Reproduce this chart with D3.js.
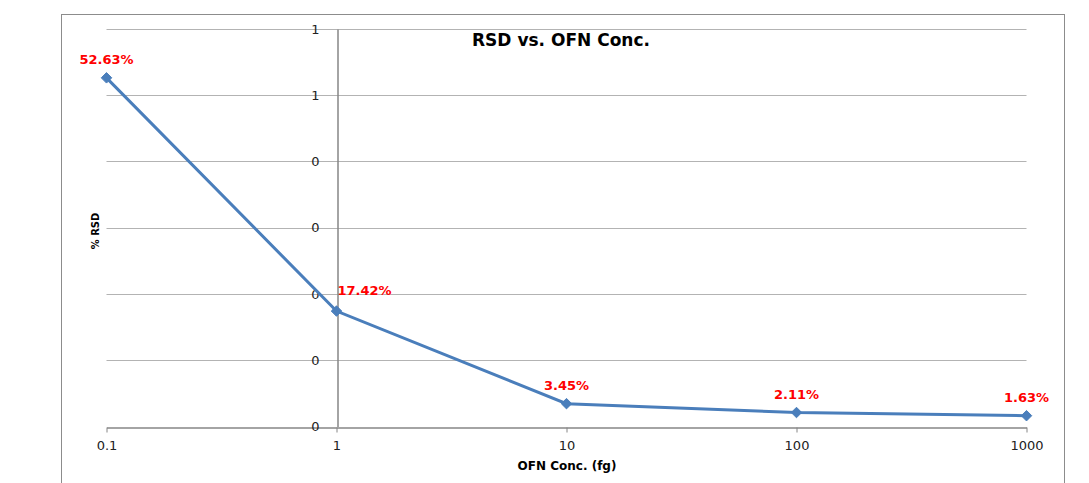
<!DOCTYPE html>
<html>
<head>
<meta charset="utf-8">
<script src="https://cdn.jsdelivr.net/npm/d3@7"></script>
<style>
  body { margin: 0; background: #fff; }
</style>
</head>
<body>
<div id="chart"></div>
<script>
// data
var concs = [0.1, 1, 10, 100, 1000];
var rsd = [0.5263, 0.1742, 0.0345, 0.0211, 0.0163];
var rsdLabels = ["52.63%", "17.42%", "3.45%", "2.11%", "1.63%"];
var xTicks = [0.1, 1, 10, 100, 1000];
var xTickLabels = ["0.1", "1", "10", "100", "1000"];
var yTicks = [0, 0.1, 0.2, 0.3, 0.4, 0.5, 0.6];
var yTickLabels = ["0", "0", "0", "0", "0", "1", "1"];

var W = 1089, H = 483;
var plotLeft = 106.5, plotRight = 1026.5, plotTop = 29, plotBottom = 426.5;

var svg = d3.select("#chart")
  .append("svg")
  .attr("width", W)
  .attr("height", H);

// outer chart frame
svg.append("rect")
  .attr("x", 61.5).attr("y", 14.5)
  .attr("width", 1003).attr("height", 500)
  .attr("fill", "none")
  .attr("stroke", "#8c8c8c")
  .attr("stroke-width", 1);

var x = d3.scaleLog().domain([0.1, 1000]).range([plotLeft, plotRight]);
var y = d3.scaleLinear().domain([0, 0.6]).range([plotBottom, plotTop]);

// gridlines
svg.append("g")
  .selectAll("line")
  .data(yTicks.slice(1))
  .enter()
  .append("line")
    .attr("x1", plotLeft).attr("x2", plotRight)
    .attr("y1", function(d) { return Math.round(y(d)) + 0.5; })
    .attr("y2", function(d) { return Math.round(y(d)) + 0.5; })
    .attr("stroke", "#b3b3b3")
    .attr("stroke-width", 1);

// x axis
var xAxis = svg.append("g")
  .attr("transform", "translate(0," + (Math.round(plotBottom) + 0.5) + ")")
  .call(d3.axisBottom(x)
    .tickValues(xTicks)
    .tickFormat(function(d, i) { return xTickLabels[i]; })
    .tickSize(5)
    .tickSizeOuter(0)
    .tickPadding(8));
xAxis.select(".domain").attr("stroke", "#868686").attr("stroke-width", 1.3);
xAxis.selectAll(".tick line").attr("stroke", "#868686");
xAxis.selectAll("text")
  .style("font-family", "DejaVu Sans")
  .style("font-size", "13px")
  .attr("fill", "#222");

// y axis, crosses at x = 1
var yAxis = svg.append("g")
  .attr("transform", "translate(" + (Math.round(x(1)) + 0.5) + ",0)")
  .call(d3.axisLeft(y)
    .tickValues(yTicks)
    .tickFormat(function(d, i) { return yTickLabels[i]; })
    .tickSize(0)
    .tickSizeOuter(0)
    .tickPadding(18));
yAxis.select(".domain").attr("stroke", "#868686").attr("stroke-width", 1.5);
yAxis.selectAll("text")
  .style("font-family", "DejaVu Sans")
  .style("font-size", "13px")
  .attr("fill", "#222");

// line
var line = d3.line()
  .x(function(d, i) { return x(concs[i]); })
  .y(function(d) { return y(d); });

svg.append("path")
  .datum(rsd)
  .attr("d", line)
  .attr("fill", "none")
  .attr("stroke", "#4a7ebb")
  .attr("stroke-width", 3);

// diamond markers
svg.append("g")
  .selectAll("path")
  .data(rsd)
  .enter()
  .append("path")
    .attr("d", d3.symbol().type(d3.symbolDiamond2).size(70))
    .attr("transform", function(d, i) { return "translate(" + x(concs[i]) + "," + y(d) + ")"; })
    .attr("fill", "#4a7ebb")
    .attr("stroke", "#4a7ebb")
    .attr("stroke-width", 1);

// data labels
svg.append("g")
  .selectAll("text")
  .data(rsd)
  .enter()
  .append("text")
    .attr("x", function(d, i) { return i == 1 ? x(concs[i]) + 1 : x(concs[i]); })
    .attr("y", function(d, i) { return i == 1 ? y(d) - 16 : y(d) - 14; })
    .attr("text-anchor", function(d, i) { return i == 1 ? "start" : "middle"; })
    .style("font-family", "DejaVu Sans")
    .style("font-size", "13px")
    .style("font-weight", "bold")
    .attr("fill", "#ff0000")
    .text(function(d, i) { return rsdLabels[i]; });

// title
svg.append("text")
  .attr("x", 561)
  .attr("y", 46)
  .attr("text-anchor", "middle")
  .style("font-family", "DejaVu Sans")
  .style("font-weight", "bold")
  .style("font-size", "17px")
  .text("RSD vs. OFN Conc.");

// x label
svg.append("text")
  .attr("x", 567)
  .attr("y", 470)
  .attr("text-anchor", "middle")
  .style("font-family", "DejaVu Sans")
  .style("font-weight", "bold")
  .style("font-size", "12px")
  .text("OFN Conc. (fg)");

// y label
svg.append("text")
  .attr("text-anchor", "middle")
  .attr("transform", "translate(99,231) rotate(-90)")
  .style("font-family", "DejaVu Sans Condensed, DejaVu Sans")
  .style("font-stretch", "condensed")
  .style("font-weight", "bold")
  .style("font-size", "11px")
  .text("% RSD");
</script>
</body>
</html>
